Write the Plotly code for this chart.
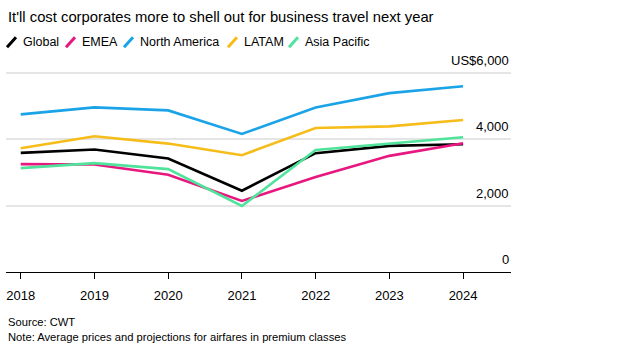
import plotly.graph_objects as go

years = [2018, 2019, 2020, 2021, 2022, 2023, 2024]
series_names = ["Global", "EMEA", "North America", "LATAM", "Asia Pacific"]
global_vals = [3590, 3690, 3420, 2450, 3580, 3800, 3850]
emea_vals = [3250, 3240, 2930, 2140, 2860, 3500, 3880]
north_america_vals = [4750, 4960, 4870, 4160, 4960, 5390, 5600]
latam_vals = [3730, 4090, 3870, 3520, 4340, 4390, 4580]
asia_pacific_vals = [3130, 3280, 3100, 1990, 3680, 3880, 4060]
series_values = [global_vals, emea_vals, north_america_vals, latam_vals, asia_pacific_vals]
colors = ["#000000", "#e8177f", "#1ba3e8", "#f6bd1a", "#4fe39c"]

y_tickvals = [0, 2000, 4000, 6000]
y_ticktext = ["0", "2,000", "4,000", "US$6,000"]

title_text = "It'll cost corporates more to shell out for business travel next year"
source_text = "Source: CWT"
note_text = "Note: Average prices and projections for airfares in premium classes"

FONT = "Liberation Sans, Arial, Helvetica, sans-serif"

W, H = 631, 348
L, R = 6, 511
B = 272.3
PX_PER_UNIT = 66.5 / 2000
Y_TOP = 6600
T = B - Y_TOP * PX_PER_UNIT

def px(x):
    return (x - L) / (R - L)

def py(y):
    return (B - y) / (B - T)

fig = go.Figure()
for name, vals, c in zip(series_names, series_values, colors):
    fig.add_trace(go.Scatter(x=years, y=vals, name=name, mode="lines",
                             line=dict(color=c, width=2.6), showlegend=False))

annotations = [
    dict(text=title_text, x=px(6), y=py(17), xref="paper", yref="paper",
         xanchor="left", yanchor="middle", showarrow=False,
         font=dict(size=14.8, color="#000", family=FONT)),
    dict(text=source_text, x=px(6), y=py(322), xref="paper", yref="paper",
         xanchor="left", yanchor="middle", showarrow=False,
         font=dict(size=11.2, color="#000", family=FONT)),
    dict(text=note_text, x=px(6), y=py(337), xref="paper", yref="paper",
         xanchor="left", yanchor="middle", showarrow=False,
         font=dict(size=11.2, color="#000", family=FONT)),
]
# y-axis value labels, placed through the y scale, right-aligned above each gridline
for v, t in zip(y_tickvals, y_ticktext):
    annotations.append(dict(text=t, x=1, y=v, xref="paper", yref="y",
                            xanchor="right", yanchor="bottom", yshift=3, showarrow=False,
                            font=dict(size=13, color="#000", family=FONT)))

shapes = []
legend_slash_x = [6, 65, 123, 227, 288]
for name, c, sx in zip(series_names, colors, legend_slash_x):
    shapes.append(dict(type="line", xref="paper", yref="paper",
                       x0=px(sx + 1), y0=py(47), x1=px(sx + 10), y1=py(37),
                       line=dict(color=c, width=3)))
    annotations.append(dict(text=name, x=px(sx + 15), y=py(42), xref="paper", yref="paper",
                            xanchor="left", yanchor="middle", showarrow=False,
                            font=dict(size=12.5, color="#000", family=FONT)))

fig.update_layout(
    width=W, height=H,
    margin=dict(l=L, r=W - R, t=T, b=H - B),
    paper_bgcolor="white", plot_bgcolor="white",
    font=dict(family=FONT, size=13, color="#000"),
    annotations=annotations, shapes=shapes,
    xaxis=dict(range=[2017.8, 2024.65], tickvals=years, ticktext=[str(y) for y in years],
               showgrid=False, showline=True, linecolor="#000", linewidth=1,
               ticks="outside", ticklen=6, tickcolor="#000", tickwidth=1,
               ticklabelstandoff=5,
               zeroline=False, tickfont=dict(size=13)),
    yaxis=dict(range=[0, Y_TOP], tickvals=y_tickvals, showticklabels=False,
               showgrid=True, gridcolor="#e5e5e5", gridwidth=1.5,
               zeroline=False, showline=False, ticks=""),
)

fig.write_html("out.html")
